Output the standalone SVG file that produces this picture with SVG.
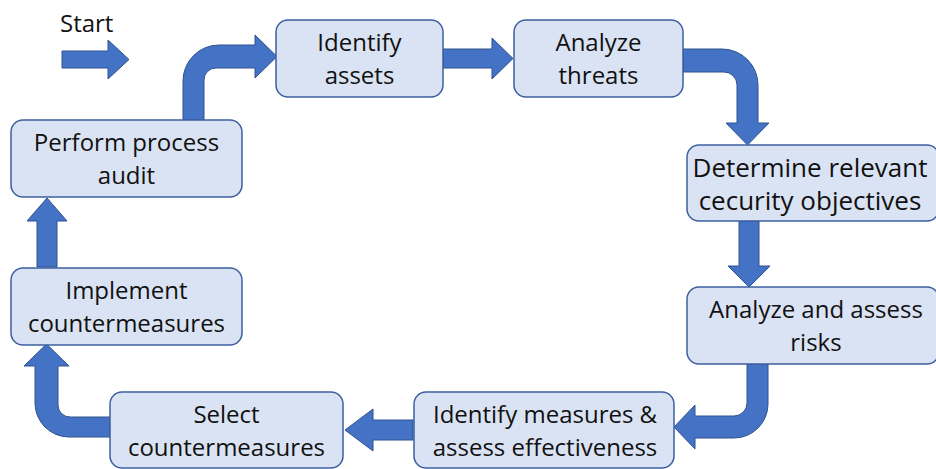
<svg xmlns="http://www.w3.org/2000/svg" width="936" height="469" viewBox="0 0 936 469">
  <style>
    .box { fill: #DAE3F3; stroke: #3D5F9E; stroke-width: 1.5; }
    .arrow { fill: #4472C4; stroke: #2F528F; stroke-width: 1; stroke-linejoin: miter; }
    text { font-family: "Open Sans", "Noto Sans", sans-serif; font-size: 24px; fill: #111111; text-anchor: middle; }
    .wide { font-size: 26px; }
  </style>
  <rect width="936" height="469" fill="#FFFFFF"/>

  <!-- Connectors: block arrows between the steps -->
  <g id="connectors">
    <path class="arrow" d="M62,51 H108 V40 L129,59.5 L108,79 V68 H62 Z"/>
    <path class="arrow" d="M183,120 V81 A36,36 0 0 1 219,45 H255 V35 L277,56.5 L255,78 V68 H216 A12,12 0 0 0 204,80 V120 Z"/>
    <path class="arrow" d="M443,49 H492 V38 L513,58.5 L492,79 V68 H443 Z"/>
    <path class="arrow" d="M683,49 H722 A36,36 0 0 1 758,85 V123 H769 L747.5,145 L726,123 H737 V85 A13,13 0 0 0 724,72 H683 Z"/>
    <path class="arrow" d="M739,221 V266 H728 L749,287 L770,266 H759 V221 Z"/>
    <path class="arrow" d="M747,364 V403 A13,13 0 0 1 734,416 H695 V405 L674,427 L695,449 V438 H734 A34,34 0 0 0 768,404 V364 Z"/>
    <path class="arrow" d="M413,420 H373 V409 L345,430 L373,451 V440 H413 Z"/>
    <path class="arrow" d="M110,417 H70 A12,12 0 0 1 58,405 V366 H69 L46.5,344 L24,366 H35 V403 A34,34 0 0 0 69,437 H110 Z"/>
    <path class="arrow" d="M37,267 V221 H27 L47,198 L67,221 H57 V267 Z"/>
  </g>

  <g id="start">
    <text x="60" y="32" style="text-anchor:start">Start</text>
  </g>

  <g id="identify-assets">
    <rect class="box" x="276" y="20" width="167" height="77" rx="12"/>
    <text x="359.5" y="51">Identify</text>
    <text x="359.5" y="84">assets</text>
  </g>

  <g id="analyze-threats">
    <rect class="box" x="514" y="20" width="169" height="77" rx="12"/>
    <text x="598.5" y="51">Analyze</text>
    <text x="598.5" y="84">threats</text>
  </g>

  <g id="determine-objectives">
    <rect class="box" x="687" y="145" width="252" height="76" rx="12"/>
    <text class="wide" x="810" y="177">Determine relevant</text>
    <text class="wide" x="810" y="210">cecurity objectives</text>
  </g>

  <g id="analyze-risks">
    <rect class="box" x="687" y="287" width="252" height="77" rx="12"/>
    <text x="816" y="318">Analyze and assess</text>
    <text x="816" y="351">risks</text>
  </g>

  <g id="identify-measures">
    <rect class="box" x="414" y="392" width="260" height="76" rx="12"/>
    <text x="545" y="423">Identify measures &amp;</text>
    <text x="545" y="456">assess effectiveness</text>
  </g>

  <g id="select-countermeasures">
    <rect class="box" x="110" y="392" width="233" height="76" rx="12"/>
    <text x="226.5" y="423">Select</text>
    <text x="226.5" y="456">countermeasures</text>
  </g>

  <g id="implement-countermeasures">
    <rect class="box" x="11" y="268" width="231" height="77" rx="12"/>
    <text x="126.5" y="299">Implement</text>
    <text x="126.5" y="332">countermeasures</text>
  </g>

  <g id="perform-audit">
    <rect class="box" x="11" y="120" width="231" height="77" rx="12"/>
    <text x="126.5" y="151">Perform process</text>
    <text x="126.5" y="184">audit</text>
  </g>
</svg>
